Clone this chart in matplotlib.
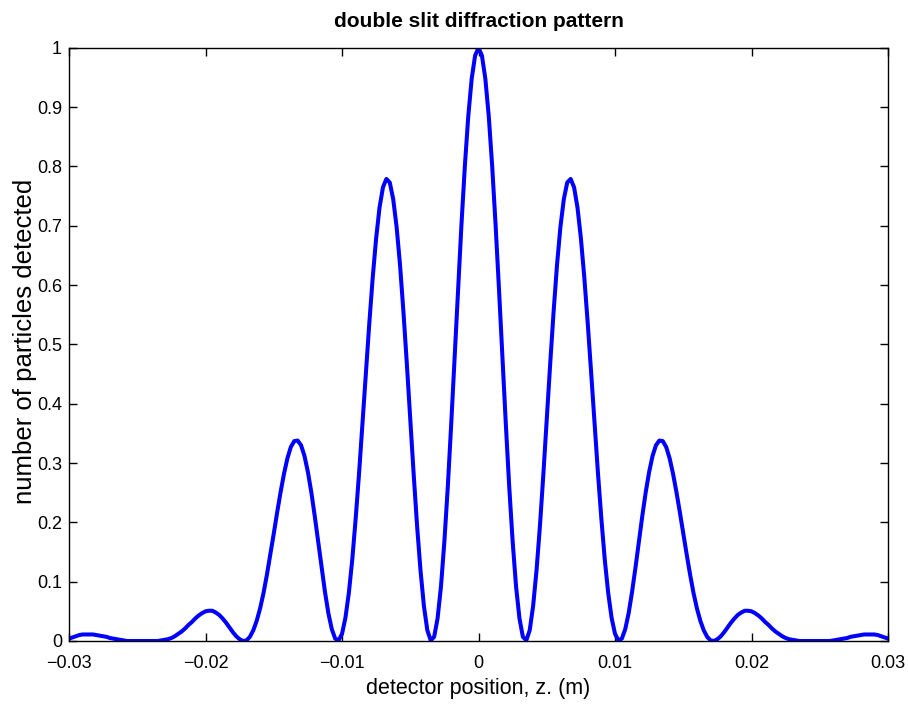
import numpy as np
import matplotlib
matplotlib.use("Agg")
import matplotlib.pyplot as plt
from matplotlib.ticker import FuncFormatter

# detector positions (m), sampled every 0.25 mm across the screen
z_pos = np.linspace(-0.03, 0.03, 241)

# normalised counts, left edge -> right edge
counts_left = [
    0.004, 0.006, 0.008, 0.010, 0.011, 0.011, 0.011, 0.011, 0.010, 0.009,
    0.008, 0.007, 0.005, 0.004, 0.003, 0.002, 0.001, 0.000, 0.000, 0.000,
    0.000, 0.000, 0.000, 0.000, 0.000, 0.000, 0.000, 0.001, 0.002, 0.003,
    0.005, 0.008, 0.012, 0.016, 0.021, 0.027, 0.032, 0.038, 0.043, 0.047,
    0.050, 0.051, 0.051, 0.048, 0.044, 0.038, 0.031, 0.023, 0.015, 0.008,
    0.003, 0.000, 0.001, 0.007, 0.018, 0.034, 0.055, 0.081, 0.112, 0.146,
    0.181, 0.217, 0.251, 0.282, 0.308, 0.327, 0.337, 0.338, 0.330, 0.312,
    0.285, 0.251, 0.211, 0.168, 0.124, 0.083, 0.047, 0.020, 0.004, 0.001,
    0.012, 0.039, 0.081, 0.137, 0.206, 0.283, 0.367, 0.453, 0.536, 0.613,
    0.679, 0.731, 0.765, 0.779, 0.773, 0.745, 0.698, 0.634, 0.555, 0.467,
    0.374, 0.281, 0.194, 0.119, 0.059, 0.018, 0.001, 0.007, 0.038, 0.092,
    0.168, 0.260, 0.366, 0.479, 0.593, 0.702, 0.801, 0.885, 0.948, 0.987,
]
counts_centre = [1.000]
counts_right = [
    0.987, 0.948, 0.885, 0.801, 0.702, 0.593, 0.479, 0.366, 0.260, 0.168,
    0.092, 0.038, 0.007, 0.001, 0.018, 0.059, 0.119, 0.194, 0.281, 0.374,
    0.467, 0.555, 0.634, 0.698, 0.745, 0.773, 0.779, 0.765, 0.731, 0.679,
    0.613, 0.536, 0.453, 0.367, 0.283, 0.206, 0.137, 0.081, 0.039, 0.012,
    0.001, 0.004, 0.020, 0.047, 0.083, 0.124, 0.168, 0.211, 0.251, 0.285,
    0.312, 0.330, 0.338, 0.337, 0.327, 0.308, 0.282, 0.251, 0.217, 0.181,
    0.146, 0.112, 0.081, 0.055, 0.034, 0.018, 0.007, 0.001, 0.000, 0.003,
    0.008, 0.015, 0.023, 0.031, 0.038, 0.044, 0.048, 0.051, 0.051, 0.050,
    0.047, 0.043, 0.038, 0.032, 0.027, 0.021, 0.016, 0.012, 0.008, 0.005,
    0.003, 0.002, 0.001, 0.000, 0.000, 0.000, 0.000, 0.000, 0.000, 0.000,
    0.000, 0.000, 0.000, 0.001, 0.002, 0.003, 0.004, 0.005, 0.007, 0.008,
    0.009, 0.010, 0.011, 0.011, 0.011, 0.011, 0.010, 0.008, 0.006, 0.004,
]
counts = np.array(counts_left + counts_centre + counts_right)

x_ticks = [-0.03, -0.02, -0.01, 0, 0.01, 0.02, 0.03]
y_ticks = [0, 0.1, 0.2, 0.3, 0.4, 0.5, 0.6, 0.7, 0.8, 0.9, 1]

plt.rcParams['font.family'] = ['Liberation Sans', 'DejaVu Sans']

fig = plt.figure(figsize=(9.08, 7.04), dpi=100)
ax = fig.add_axes([0.076, 0.0895, 0.902, 0.8425])

ax.plot(z_pos, counts, color=(0, 0, 1), linewidth=2.9,
        solid_joinstyle='round', solid_capstyle='round')

ax.set_xlim(-0.03, 0.03)
ax.set_ylim(0, 1)
ax.set_xticks(x_ticks)
ax.set_yticks(y_ticks)
fmt = FuncFormatter(lambda v, p: ('%g' % v).replace('-', '\u2212'))
ax.xaxis.set_major_formatter(fmt)
ax.yaxis.set_major_formatter(fmt)
ax.tick_params(direction='in', length=6, width=1, top=True, right=True,
               labelsize=13)
ax.tick_params(axis='x', pad=10)
ax.tick_params(axis='y', pad=5)
for s in ax.spines.values():
    s.set_linewidth(1)

ax.set_title('double slit diffraction pattern', fontsize=15, fontweight='bold', pad=15)
ax.set_xlabel('detector position, z. (m)', fontsize=15.5)
ax.set_ylabel('number of particles detected', fontsize=18.5)
ax.xaxis.set_label_coords(0.5, -0.062)
ax.yaxis.set_label_coords(-0.039, 0.505)

fig.savefig('out.png', dpi=100)
